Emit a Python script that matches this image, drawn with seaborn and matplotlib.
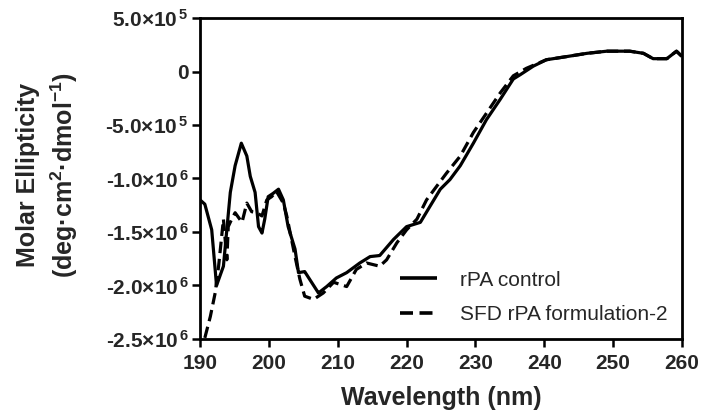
import numpy as np
import pandas as pd
import matplotlib
matplotlib.use("Agg")
import matplotlib.pyplot as plt
import seaborn as sns

# ---- data ----
wl_control = [190.0, 190.7, 191.7, 192.4, 193.4, 194.4, 195.1, 196.0, 196.8, 197.3, 198.0,
              198.5, 199.0, 199.4, 199.9, 200.6, 201.4, 202.1, 202.8, 203.8, 204.3, 205.2,
              206.2, 207.2, 208.4, 209.8, 211.3, 213.2, 214.7, 216.1, 218.1, 220.0, 222.0,
              223.4, 224.9, 226.3, 227.8, 229.7, 231.6, 233.6, 235.5, 236.5, 238.4, 240.3,
              243.3, 246.2, 249.1, 252.4, 254.4, 255.8, 257.8, 259.2, 260.0]
me_control = [-1.20e6, -1.24e6, -1.48e6, -2.00e6, -1.82e6, -1.13e6, -0.88e6, -0.67e6, -0.79e6,
              -0.98e6, -1.13e6, -1.45e6, -1.51e6, -1.38e6, -1.17e6, -1.14e6, -1.10e6, -1.20e6,
              -1.45e6, -1.66e6, -1.88e6, -1.87e6, -1.97e6, -2.07e6, -2.01e6, -1.93e6, -1.88e6,
              -1.79e6, -1.73e6, -1.72e6, -1.57e6, -1.45e6, -1.41e6, -1.26e6, -1.10e6, -1.01e6,
              -0.88e6, -0.67e6, -0.45e6, -0.26e6, -0.07e6, -0.03e6, 0.05e6, 0.11e6, 0.14e6,
              0.17e6, 0.19e6, 0.19e6, 0.17e6, 0.12e6, 0.12e6, 0.19e6, 0.14e6]

wl_sfd = [190.7, 191.5, 192.2, 192.7, 193.1, 193.4, 193.9, 194.1, 194.6, 195.1, 196.1, 196.8,
          197.5, 198.2, 199.0, 199.7, 200.4, 201.1, 202.1, 202.6, 203.1, 203.8, 204.5, 205.2,
          206.5, 207.9, 209.4, 211.3, 212.7, 214.2, 216.1, 217.1, 218.6, 220.0, 221.5, 222.9,
          224.4, 225.8, 227.8, 229.7, 231.6, 233.6, 235.5, 237.4, 240.3, 243.3, 246.2, 249.1,
          252.4, 254.4, 255.8, 257.8, 259.2, 260.0]
me_sfd = [-2.49e6, -2.29e6, -2.07e6, -1.82e6, -1.57e6, -1.38e6, -1.76e6, -1.45e6, -1.38e6,
          -1.32e6, -1.41e6, -1.23e6, -1.31e6, -1.32e6, -1.35e6, -1.20e6, -1.17e6, -1.12e6,
          -1.23e6, -1.35e6, -1.51e6, -1.73e6, -1.94e6, -2.10e6, -2.13e6, -2.07e6, -1.97e6,
          -2.01e6, -1.85e6, -1.79e6, -1.82e6, -1.76e6, -1.60e6, -1.48e6, -1.38e6, -1.20e6,
          -1.07e6, -0.95e6, -0.79e6, -0.57e6, -0.39e6, -0.20e6, -0.04e6, 0.03e6, 0.11e6,
          0.14e6, 0.17e6, 0.19e6, 0.19e6, 0.17e6, 0.12e6, 0.12e6, 0.19e6, 0.14e6]

series_names = ["rPA control", "SFD rPA formulation-2"]
x_ticks = [190, 200, 210, 220, 230, 240, 250, 260]
y_ticks = [-2.5e6, -2.0e6, -1.5e6, -1.0e6, -5.0e5, 0, 5.0e5]
y_tick_labels = ["-2.5×10$^{\\,6}$", "-2.0×10$^{\\,6}$", "-1.5×10$^{\\,6}$", "-1.0×10$^{\\,6}$",
                 "-5.0×10$^{\\,5}$", "0", "5.0×10$^{\\,5}$"]

df = pd.concat([
    pd.DataFrame({"Wavelength": wl_control, "ME": me_control, "Series": series_names[0]}),
    pd.DataFrame({"Wavelength": wl_sfd, "ME": me_sfd, "Series": series_names[1]}),
], ignore_index=True)

sns.set_theme(style="ticks")
plt.rcParams["font.family"] = ["Liberation Sans", "DejaVu Sans"]
plt.rcParams["mathtext.fontset"] = "custom"
plt.rcParams["mathtext.rm"] = "Liberation Sans:bold"
plt.rcParams["mathtext.bf"] = "Liberation Sans:bold"
plt.rcParams["mathtext.it"] = "Liberation Sans:bold"
plt.rcParams["mathtext.default"] = "rm"

fig = plt.figure(figsize=(7.05, 4.19), dpi=100)
ax = fig.add_axes([0.2837, 0.191, 0.6837, 0.766])

sns.lineplot(data=df, x="Wavelength", y="ME", hue="Series", style="Series",
             palette=["black", "black"], dashes=[(1, 0), (3.6, 1.8)],
             linewidth=2.3, sort=False, estimator=None, ax=ax)

ax.set_xlim(190, 260)
ax.set_ylim(-2.5e6, 5.0e5)
ax.set_xticks(x_ticks)
ax.set_xticklabels([str(t) for t in x_ticks], fontsize=15, fontweight="bold")
ax.set_yticks(y_ticks)
ax.set_yticklabels(y_tick_labels, fontsize=15, fontweight="bold")
for s in ax.spines.values():
    s.set_linewidth(2.0)
    s.set_color("black")
    s.set_visible(True)
ax.tick_params(axis="both", direction="out", length=6, width=1.8, color="black")
ax.tick_params(axis="x", pad=5)
ax.tick_params(axis="y", pad=2)

ax.set_xlabel("Wavelength (nm)", fontsize=18, fontweight="bold", labelpad=9)
ax.set_ylabel("Molar Ellipticity\n(deg·cm$^{2}$·dmol$^{-1}$)", fontsize=18,
              fontweight="bold", linespacing=1.35, va="center")
ax.yaxis.set_label_coords(-0.315, 0.51)

leg = ax.legend(loc="lower right", frameon=False, fontsize=15, handlelength=1.8,
                labelspacing=0.75, handletextpad=1.1, borderaxespad=0.3,
                bbox_to_anchor=(1.0, 0.0))
for line in leg.get_lines():
    line.set_linewidth(2.6)

fig.savefig("out.png", dpi=100)
